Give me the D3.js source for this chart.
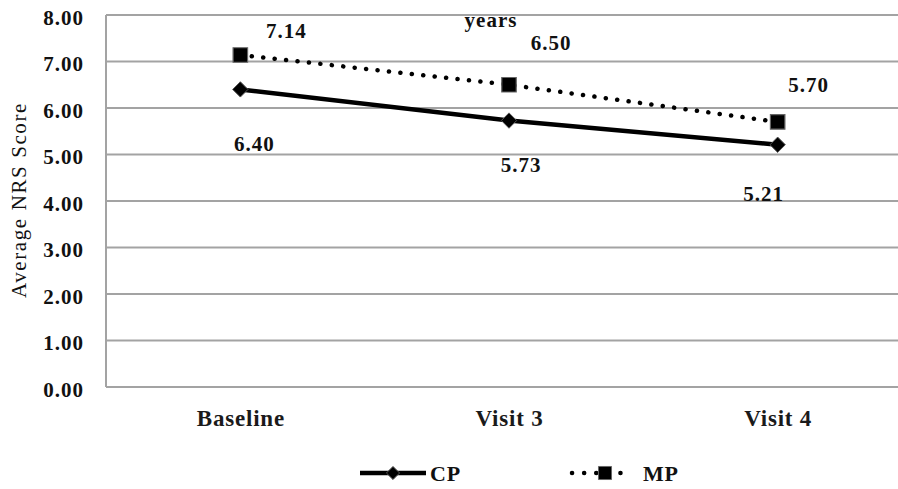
<!DOCTYPE html>
<html>
<head>
<meta charset="utf-8">
<script src="https://cdn.jsdelivr.net/npm/d3@7"></script>
<style>
    body { margin: 0; background: #fff; }
</style>
</head>
<body>
<div id="chart"></div>
<script>
// chart values
const categories = ["Baseline", "Visit 3", "Visit 4"];
const cpValues = [6.40, 5.73, 5.21];
const mpValues = [7.14, 6.50, 5.70];
const yTicks = [0, 1, 2, 3, 4, 5, 6, 7, 8];
const seriesNames = ["CP", "MP"];

// hand placed value labels (dx, dy from the point), as in the original
const cpLabelOffsets = [[14, 54], [12, 44], [-14, 49]];
const mpLabelOffsets = [[46, -24], [42, -42], [31, -37]];

const FONT = "Liberation Serif";
const width = 898, height = 489;
const plot = {left: 106, right: 912, top: 15, bottom: 387};

const svg = d3.select("#chart").append("svg")
    .attr("width", width)
    .attr("height", height)
    .attr("font-family", FONT);

const x = d3.scalePoint()
    .domain(categories)
    .range([plot.left, plot.right])
    .padding(0.5);

const y = d3.scaleLinear()
    .domain([0, 8])
    .range([plot.bottom, plot.top]);

// gridlines
svg.append("g")
    .selectAll("line")
    .data(yTicks)
    .enter()
    .append("line")
    .attr("x1", plot.left)
    .attr("x2", plot.right)
    .attr("y1", d => y(d))
    .attr("y2", d => y(d))
    .attr("stroke", "#a3a3a3")
    .attr("stroke-width", 2);

// left axis line
svg.append("line")
    .attr("x1", plot.left).attr("x2", plot.left)
    .attr("y1", y(8)).attr("y2", y(0))
    .attr("stroke", "#a3a3a3")
    .attr("stroke-width", 2);

// y tick labels
const yAxis = svg.append("g")
    .attr("transform", `translate(${plot.left},0)`)
    .call(d3.axisLeft(y).tickValues(yTicks).tickSize(0).tickPadding(22).tickFormat(d3.format(".2f")));
yAxis.select(".domain").remove();
yAxis.selectAll("text")
    .attr("font-family", FONT)
    .attr("font-size", 21)
    .attr("font-weight", "bold")
    .attr("letter-spacing", 1)
    .attr("dy", "0.45em")
    .attr("fill", "#111");

// x category labels
const xAxis = svg.append("g")
    .attr("transform", `translate(0,${plot.bottom})`)
    .call(d3.axisBottom(x).tickSize(0).tickPadding(23));
xAxis.select(".domain").remove();
xAxis.selectAll("text")
    .attr("font-family", FONT)
    .attr("font-size", 23)
    .attr("font-weight", "bold")
    .attr("letter-spacing", 0.8)
    .attr("fill", "#1a1a1a");

// y axis title
svg.append("text")
    .attr("transform", "translate(26,200) rotate(-90)")
    .attr("text-anchor", "middle")
    .attr("font-family", FONT)
    .attr("font-size", 21)
    .attr("letter-spacing", 1.6)
    .attr("fill", "#111")
    .text("Average NRS Score");

// stray text from the source figure
svg.append("text")
    .attr("x", 491)
    .attr("y", 27)
    .attr("text-anchor", "middle")
    .attr("font-family", FONT)
    .attr("font-size", 21)
    .attr("font-weight", "bold")
    .attr("letter-spacing", 1)
    .attr("fill", "#111")
    .text("years");

const line = d3.line()
    .x((d, i) => x(categories[i]))
    .y(d => y(d));

// MP dotted line
svg.append("path")
    .datum(mpValues)
    .attr("d", line)
    .attr("fill", "none")
    .attr("stroke", "#000")
    .attr("stroke-width", 4.5)
    .attr("stroke-linecap", "round")
    .attr("stroke-dasharray", "0.1 11.4");

// CP solid line
svg.append("path")
    .datum(cpValues)
    .attr("d", line)
    .attr("fill", "none")
    .attr("stroke", "#000")
    .attr("stroke-width", 4.5);

const diamond = d3.symbol().type(d3.symbolDiamond2).size(150);
const square = d3.symbol().type(d3.symbolSquare).size(210);

svg.append("g")
    .selectAll("path")
    .data(cpValues)
    .enter()
    .append("path")
    .attr("d", diamond)
    .attr("transform", (d, i) => `translate(${x(categories[i])},${y(d)})`)
    .attr("fill", "#000")
    .attr("stroke", "#555")
    .attr("stroke-width", 1);

svg.append("g")
    .selectAll("path")
    .data(mpValues)
    .enter()
    .append("path")
    .attr("d", square)
    .attr("transform", (d, i) => `translate(${x(categories[i])},${y(d)})`)
    .attr("fill", "#000")
    .attr("stroke", "#666")
    .attr("stroke-width", 1.2);

// value labels
function addLabels(values, offsets) {
    svg.append("g")
        .selectAll("text")
        .data(values)
        .enter()
        .append("text")
        .attr("x", (d, i) => x(categories[i]) + offsets[i][0])
        .attr("y", (d, i) => y(d) + offsets[i][1])
        .attr("dy", "0.35em")
        .attr("text-anchor", "middle")
        .attr("font-family", FONT)
        .attr("font-size", 21)
        .attr("font-weight", "bold")
        .attr("letter-spacing", 1)
        .attr("fill", "#111")
        .text(d => d3.format(".2f")(d));
}
addLabels(cpValues, cpLabelOffsets);
addLabels(mpValues, mpLabelOffsets);

// legend
const legend = svg.append("g").attr("transform", "translate(0,473)");

legend.append("line")
    .attr("x1", 360).attr("x2", 426)
    .attr("stroke", "#000").attr("stroke-width", 4.5);
legend.append("path")
    .attr("d", d3.symbol().type(d3.symbolDiamond2).size(110))
    .attr("transform", "translate(393,0)")
    .attr("fill", "#000").attr("stroke", "#555");
legend.append("text")
    .attr("x", 430).attr("dy", "0.35em")
    .attr("font-family", FONT)
    .attr("font-size", 22).attr("font-weight", "bold")
    .attr("letter-spacing", 0.8)
    .attr("fill", "#111")
    .text(seriesNames[0]);

legend.append("line")
    .attr("x1", 572).attr("x2", 632)
    .attr("stroke", "#000").attr("stroke-width", 4.5)
    .attr("stroke-linecap", "round")
    .attr("stroke-dasharray", "0.1 12");
legend.append("path")
    .attr("d", d3.symbol().type(d3.symbolSquare).size(170))
    .attr("transform", "translate(605,0)")
    .attr("fill", "#000").attr("stroke", "#666");
legend.append("text")
    .attr("x", 643).attr("dy", "0.35em")
    .attr("font-family", FONT)
    .attr("font-size", 22).attr("font-weight", "bold")
    .attr("letter-spacing", 0.8)
    .attr("fill", "#111")
    .text(seriesNames[1]);
</script>
</body>
</html>
